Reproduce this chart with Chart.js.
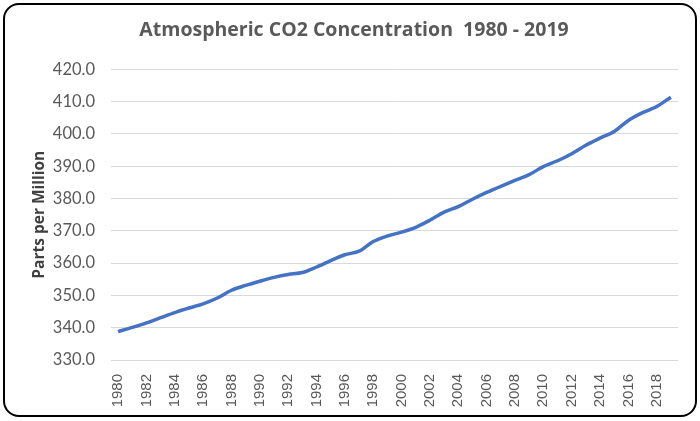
<!DOCTYPE html>
<html>
<head>
<meta charset="utf-8">
<script src="https://cdn.jsdelivr.net/npm/chart.js@4/dist/chart.umd.min.js"></script>
<style>
  html, body { margin: 0; padding: 0; background: #fff; }
  #frame {
    position: absolute; left: 3px; top: 3px;
    width: 690px; height: 410px;
    border: 2px solid #000; border-radius: 16px;
    background: #fff;
  }
  #wrap { position: absolute; left: 0; top: 0; width: 700px; height: 421px; }
</style>
</head>
<body>
<div id="frame"></div>
<div id="wrap"><canvas id="co2"></canvas></div>
<script>
// Datos (Mauna Loa, media anual)
const years = [];
for (let y = 1980; y <= 2019; y++) years.push(String(y));
const ppm = [
  338.8, 340.1, 341.5, 343.1, 344.7, 346.1, 347.4, 349.2, 351.6, 353.1,
  354.4, 355.6, 356.5, 357.1, 358.8, 360.8, 362.6, 363.7, 366.7, 368.4,
  369.6, 371.1, 373.3, 375.8, 377.5, 379.8, 381.9, 383.8, 385.6, 387.4,
  389.9, 391.7, 393.9, 396.5, 398.7, 400.8, 404.2, 406.6, 408.5, 411.4
];
const yMin = 330, yMax = 420, yStep = 10;

const ctx = document.getElementById('co2').getContext('2d');
new Chart(ctx, {
  type: 'line',
  data: {
    labels: years,
    datasets: [{
      data: ppm,
      borderColor: '#4472C4',
      borderWidth: 3.5,
      pointRadius: 0,
      tension: 0.3,
      fill: false
    }]
  },
  options: {
    responsive: true,
    maintainAspectRatio: false,
    animation: false,
    layout: { padding: { left: 30, right: 22, top: 0, bottom: 10 } },
    plugins: {
      legend: { display: false },
      tooltip: { enabled: false },
      title: {
        display: true,
        text: 'Atmospheric CO2 Concentration  1980 - 2019',
        color: '#595959',
        font: { family: 'Open Sans', size: 19.5, weight: 'bold' },
        padding: { top: 19, bottom: 27 }
      }
    },
    scales: {
      x: {
        offset: true,
        afterFit: s => { s.height = 51; },
        grid: { display: false },
        border: { display: false },
        ticks: {
          autoSkip: false,
          minRotation: 90,
          maxRotation: 90,
          padding: 6,
          color: '#595959',
          font: { family: 'Liberation Sans', size: 15 },
          callback: function(v, i) { return i % 2 === 0 ? this.getLabelForValue(v) : ''; }
        }
      },
      y: {
        min: yMin,
        max: yMax,
        afterFit: s => { s.width = 81; },
        grid: { color: '#d9d9d9', lineWidth: 1, drawTicks: false },
        border: { display: false },
        title: {
          display: true,
          text: 'Parts per Million',
          color: '#404040',
          font: { family: 'Open Sans', size: 15.5, weight: 'bold' },
          padding: { top: 0, bottom: 4 }
        },
        ticks: {
          stepSize: yStep,
          padding: 16,
          color: '#595959',
          font: { family: 'Lato', size: 16.5 },
          callback: v => v.toFixed(1)
        }
      }
    }
  }
});
</script>
</body>
</html>
